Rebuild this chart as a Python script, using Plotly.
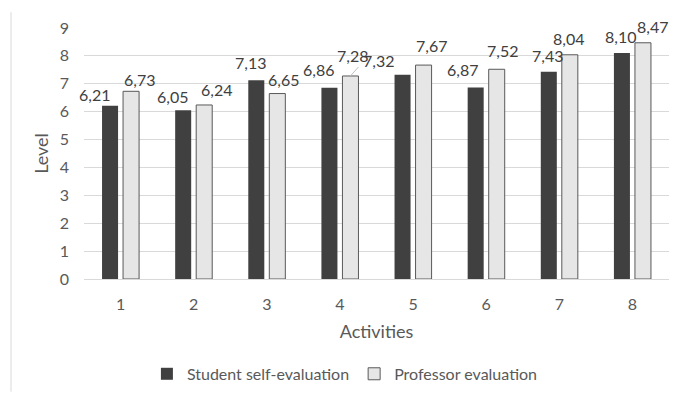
import plotly.graph_objects as go

# Activity numbers and the two evaluation series (scale 0-9)
activities = [1, 2, 3, 4, 5, 6, 7, 8]
activity_labels = ["1", "2", "3", "4", "5", "6", "7", "8"]
student_self = [6.21, 6.05, 7.13, 6.86, 7.32, 6.87, 7.43, 8.10]
professor = [6.73, 6.24, 6.65, 7.28, 7.67, 7.52, 8.04, 8.47]
y_ticks = [0, 1, 2, 3, 4, 5, 6, 7, 8, 9]

# Hand-placed data-label nudges (pixels): horizontal shift from bar centre,
# and vertical gap between bar top and label baseline
student_dx = [-16, -11, -6, -11, -24, -13, -1, -1]
student_gap = [5, 7, 11, 11.5, 7.5, 11, 10, 10.5]
prof_dx = [8, 12, 6, 2, 8, 6, -1, 10]
prof_gap = [5, 9, 8, 14, 13, 12, 10, 10]

DARK = "#404040"
LIGHT = "#E7E6E6"
EDGE = "#595959"
TEXT = "#595959"
GRID = "#D9D9D9"
FONT = "Lato, 'Liberation Sans', sans-serif"

W, H = 674, 396
ML, MR, MT, MB = 84, 5, 28, 114
plot_w = W - ML - MR
cat_w = plot_w / len(activities)
BARGAP = 0.425
GROUPGAP = 0.238
slot = cat_w * (1 - BARGAP) / 2  # width reserved for one series inside a group


def fmt(v):
    return f"{v:.2f}".replace(".", ",")


fig = go.Figure()
fig.add_trace(go.Bar(
    name="Student self-evaluation", x=activities, y=student_self,
    marker=dict(color=DARK, line=dict(width=0)),
))
fig.add_trace(go.Bar(
    name="Professor evaluation", x=activities, y=professor,
    marker=dict(color=LIGHT, line=dict(color=EDGE, width=1)),
))

annotations = []
for series, dxs, gaps, side in ((student_self, student_dx, student_gap, -1),
                                (professor, prof_dx, prof_gap, 1)):
    for a, val, dx, gap in zip(activities, series, dxs, gaps):
        annotations.append(dict(
            x=a, y=val, xref="x", yref="y", text=fmt(val), showarrow=False,
            xanchor="center", yanchor="bottom",
            xshift=side * slot / 2 + dx, yshift=gap - 5,
            font=dict(family=FONT, size=16, color=DARK),
        ))

# Small leader line joining the shifted label of activity 4 to its bar
shapes = [
    dict(type="line", xref="x", yref="y", xsizemode="pixel", ysizemode="pixel",
         xanchor=activities[3], yanchor=professor[3],
         x0=slot / 2, x1=slot / 2 + 8, y0=0, y1=9,
         line=dict(color="#BFBFBF", width=1)),
    # chart frame edge on the left
    dict(type="line", xref="paper", yref="paper",
         x0=(11 - ML) / plot_w, x1=(11 - ML) / plot_w,
         y0=(H - MB - H) / (H - MT - MB), y1=(H - MB - 12) / (H - MT - MB),
         line=dict(color=GRID, width=1)),
]

fig.update_layout(
    width=W, height=H,
    margin=dict(l=ML, r=MR, t=MT, b=MB),
    paper_bgcolor="white", plot_bgcolor="white",
    barmode="group", bargap=BARGAP, bargroupgap=GROUPGAP,
    font=dict(family=FONT, size=16, color=TEXT),
    annotations=annotations, shapes=shapes,
    showlegend=True,
    legend=dict(orientation="h", x=0.446, xanchor="center", y=-0.378,
                yanchor="middle", font=dict(size=16, color=TEXT),
                itemwidth=30, traceorder="normal"),
)
fig.update_xaxes(
    range=[0.5, 8.5], tickvals=activities, ticktext=activity_labels,
    showgrid=False, zeroline=False, showline=True, linecolor=GRID,
    linewidth=1, ticks="", ticklabelstandoff=11,
    title=dict(text="Activities", font=dict(size=18, color=TEXT), standoff=13),
)
fig.update_yaxes(
    range=[0, 9], tickvals=y_ticks, showgrid=True, gridcolor=GRID,
    gridwidth=1, zeroline=False, showline=False, ticks="",
    ticklabelstandoff=14,
    title=dict(text="Level", font=dict(size=18, color=TEXT), standoff=6),
)

fig.write_html("out.html")
